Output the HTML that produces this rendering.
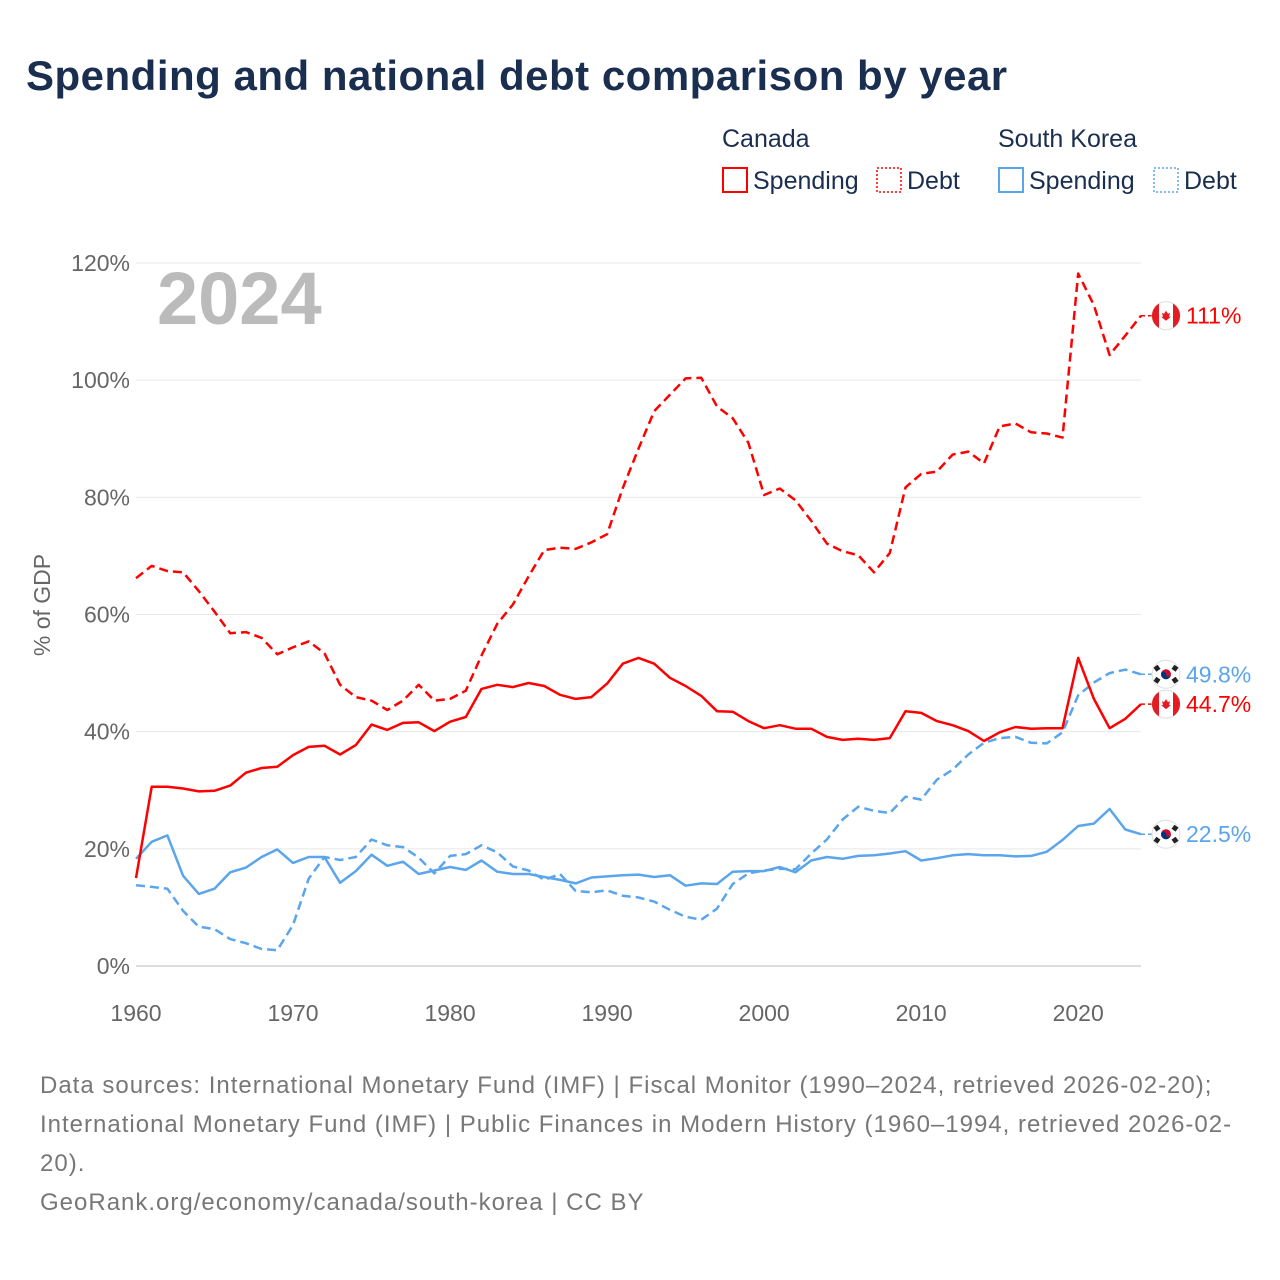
<!DOCTYPE html>
<html><head><meta charset="utf-8"><style>
body{margin:0;background:#fff;font-family:"Liberation Sans",sans-serif;}
#wrap{position:relative;width:1280px;height:1280px;overflow:hidden;}
</style></head><body>
<div id="wrap">
<div style="position:absolute;left:26px;top:52px;font-size:42px;font-weight:bold;color:#1a2e4f;letter-spacing:0.5px;">Spending and national debt comparison by year</div>
<svg id="chart" width="1280" height="1280" style="position:absolute;left:0;top:0"></svg>
<div style="position:absolute;left:40px;top:1066px;width:1200px;font-size:24px;line-height:39px;color:#777;letter-spacing:1px;">Data sources: International Monetary Fund (IMF) | Fiscal Monitor (1990–2024, retrieved 2026-02-20); International Monetary Fund (IMF) | Public Finances in Modern History (1960–1994, retrieved 2026-02-20).<br>GeoRank.org/economy/canada/south-korea | CC BY</div>
</div>
<script>
const years=[];for(let y=1960;y<=2024;y++)years.push(y);
const caSpending=[15.0,30.6,30.6,30.3,29.8,29.9,30.8,33.0,33.8,34.0,36.0,37.4,37.6,36.1,37.7,41.2,40.3,41.5,41.6,40.1,41.7,42.5,47.3,48.0,47.6,48.3,47.8,46.3,45.6,45.9,48.2,51.6,52.6,51.6,49.2,47.8,46.1,43.5,43.4,41.8,40.6,41.1,40.5,40.5,39.1,38.6,38.8,38.6,38.9,43.5,43.2,41.8,41.1,40.1,38.4,39.9,40.8,40.5,40.6,40.6,52.6,45.6,40.6,42.2,44.7];
const caDebt=[66.2,68.3,67.4,67.2,64.0,60.5,56.8,57.0,56.0,53.2,54.4,55.4,53.4,48.0,45.9,45.3,43.7,45.3,48.0,45.3,45.6,47.0,53.0,58.4,61.7,66.5,71.0,71.4,71.2,72.3,73.7,81.6,88.3,94.7,97.5,100.3,100.4,95.5,93.5,89.3,80.4,81.5,79.5,76.0,72.1,70.8,70.1,67.2,70.5,81.7,84.0,84.4,87.3,87.8,85.8,92.1,92.6,91.1,90.9,90.2,118.2,112.8,104.3,107.6,111.0];
const krSpending=[18.3,21.2,22.3,15.4,12.3,13.2,16.0,16.8,18.6,19.9,17.6,18.6,18.6,14.2,16.2,19.0,17.1,17.8,15.7,16.3,16.9,16.4,18.0,16.1,15.7,15.7,15.2,14.7,14.1,15.1,15.3,15.5,15.6,15.2,15.5,13.7,14.1,14.0,16.1,16.2,16.2,16.9,16.0,18.0,18.6,18.3,18.8,18.9,19.2,19.6,18.0,18.4,18.9,19.1,18.9,18.9,18.7,18.8,19.5,21.5,23.9,24.3,26.8,23.3,22.5];
const krDebt=[13.8,13.5,13.2,9.4,6.7,6.3,4.6,3.9,2.9,2.7,7.0,14.9,18.6,18.1,18.6,21.6,20.6,20.3,18.5,15.8,18.8,19.1,20.6,19.4,17.0,16.3,14.7,15.7,12.8,12.6,12.9,12.0,11.7,11.0,9.6,8.4,7.9,9.8,14.0,15.8,16.3,16.6,16.5,19.2,21.6,25.0,27.2,26.5,26.1,28.9,28.4,31.8,33.5,36.1,38.1,38.9,39.1,38.1,38.0,39.9,46.2,48.4,50.0,50.6,49.8];
const yTicks=[0,20,40,60,80,100,120];
const xTicks=[1960,1970,1980,1990,2000,2010,2020];
const endLabels=["111%","44.7%","49.8%","22.5%"];

const NS="http://www.w3.org/2000/svg";
const svg=document.getElementById('chart');
const X=y=>136+(y-1960)*(1141-136)/64;
const Y=v=>966-v*(966-263)/120;
function el(t,a,p){const e=document.createElementNS(NS,t);for(const k in a)e.setAttribute(k,a[k]);(p||svg).appendChild(e);return e;}
function txt(s,a){const e=el('text',a);e.textContent=s;return e;}
const RED="#ff0000",BLUE="#5aa5ec";
yTicks.forEach(v=>{
 const g=el('line',{x1:136,x2:1141,y1:Y(v),y2:Y(v),stroke:v===0?'#ddd':'#e8e8e8','stroke-width':v===0?2:1});
 
 
 const t=txt(v+'%',{x:130,y:Y(v)+8,'text-anchor':'end','font-size':23,fill:'#666'});
 
 
});
xTicks.forEach(v=>{
 const t=txt(v,{x:X(v),y:1021,'text-anchor':'middle','font-size':23,fill:'#666'});
 
 
});
const yt=txt('% of GDP',{x:0,y:0,transform:'translate(50,605) rotate(-90)','text-anchor':'middle','font-size':23,fill:'#666'});


const yr=txt('2024',{x:157,y:324,'font-size':74,'font-weight':'bold',fill:'#bbb'});


function line(data,color,dash,name){
 const d=data.map((v,i)=>(i?'L':'M')+X(years[i]).toFixed(1)+','+Y(v).toFixed(1)).join('');
 const p=el('path',{d:d,fill:'none',stroke:color,'stroke-width':2.5,'stroke-linejoin':'round'});
 if(dash)p.setAttribute('stroke-dasharray','9,5');
 
 
}
line(krDebt,BLUE,true,'south-korea-debt-line');
line(krSpending,BLUE,false,'south-korea-spending-line');
line(caDebt,RED,true,'canada-debt-line');
line(caSpending,RED,false,'canada-spending-line');
function flag(v,ca,label,color,name){
 const cy=Y(v),cx=1166;
 el('line',{x1:1141,x2:1152,y1:cy,y2:cy,stroke:color,'stroke-width':1.5,'stroke-dasharray':'4,3'});
 const g=el('g',{});
 
 
 el('circle',{cx:cx,cy:cy,r:14,fill:'#fff',stroke:'#ddd'},g);
 if(ca){
  el('path',{d:`M${cx-14},${cy} A14,14 0 0 1 ${cx-7},${cy-12.1} L${cx-7},${cy+12.1} A14,14 0 0 1 ${cx-14},${cy}Z`,fill:'#e31b23'},g);
  el('path',{d:`M${cx+14},${cy} A14,14 0 0 0 ${cx+7},${cy-12.1} L${cx+7},${cy+12.1} A14,14 0 0 0 ${cx+14},${cy}Z`,fill:'#e31b23'},g);
  el('path',{d:`M${cx},${cy-5} l2,3 2,-1 -1,4 2,0 -5,4 -5,-4 2,0 -1,-4 2,1z`,fill:'#e31b23'},g);
 }else{
  el('circle',{cx:cx,cy:cy,r:5,fill:'#c60c30'},g);
  el('path',{d:`M${cx-5},${cy} A5,5 0 0 0 ${cx+5},${cy} A2.5,2.5 0 0 1 ${cx},${cy} A2.5,2.5 0 0 0 ${cx-5},${cy}Z`,fill:'#003478'},g);
  [[-9,-6],[9,-6],[-9,6],[9,6]].forEach(o=>el('rect',{x:cx+o[0]-2.5,y:cy+o[1]-2.5,width:5,height:5,fill:'#222',transform:`rotate(${o[0]*o[1]>0?-35:35} ${cx+o[0]} ${cy+o[1]})`},g));
 }
 const t=txt(label,{x:1186,y:cy+8,'font-size':23,fill:color});
 
 
}
flag(caDebt[64],true,endLabels[0],RED,'canada-debt');
flag(caSpending[64],true,endLabels[1],RED,'canada-spending');
flag(krDebt[64],false,endLabels[2],BLUE,'south-korea-debt');
flag(krSpending[64],false,endLabels[3],BLUE,'south-korea-spending');
function legend(x,label,color,dotted,name){
 const r=el('rect',{x:x,y:168,width:24,height:24,fill:'none',stroke:color,'stroke-width':dotted?1.5:2});
 if(dotted)r.setAttribute('stroke-dasharray','2,2');
 
 
 const t=txt(label,{x:x+30,y:189,'font-size':25,fill:'#1a2e4f'});
 
 
}
const h1=txt('Canada',{x:722,y:147,'font-size':25,fill:'#1a2e4f'});


const h2=txt('South Korea',{x:998,y:147,'font-size':25,fill:'#1a2e4f'});


legend(723,'Spending',RED,false,'canada-spending');
legend(877,'Debt',RED,true,'canada-debt');
legend(999,'Spending',BLUE,false,'south-korea-spending');
legend(1154,'Debt',BLUE,true,'south-korea-debt');
</script>
</body></html>
